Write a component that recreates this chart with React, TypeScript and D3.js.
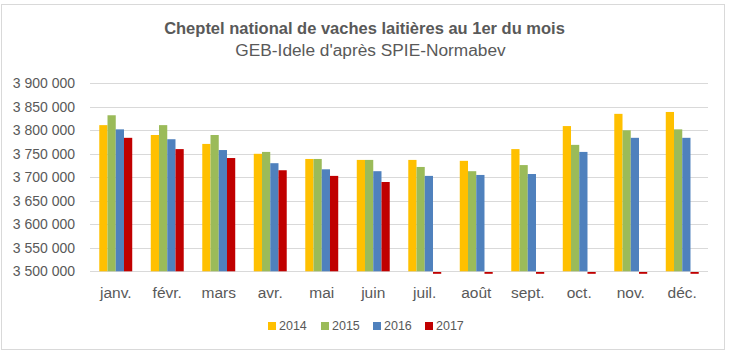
import React from "react";
import * as d3 from "d3";

const months = ["janv.", "févr.", "mars", "avr.", "mai", "juin", "juil.", "août", "sept.", "oct.", "nov.", "déc."];
const seriesNames = ["2014", "2015", "2016", "2017"];
const colors = ["#FFC000", "#9BBB59", "#4F81BD", "#C00000"];

const v2014 = [3811000, 3790000, 3771000, 3750000, 3739000, 3737000, 3737000, 3735000, 3760000, 3809000, 3835000, 3839000];
const v2015 = [3832000, 3811000, 3790000, 3754000, 3739000, 3737000, 3722000, 3713000, 3726000, 3769000, 3800000, 3802000];
const v2016 = [3802000, 3781000, 3758000, 3730000, 3717000, 3713000, 3703000, 3705000, 3707000, 3754000, 3784000, 3784000];
const v2017 = [3784000, 3760000, 3741000, 3715000, 3703000, 3690000, 0, 0, 0, 0, 0, 0];
const yTicks = [3500000, 3550000, 3600000, 3650000, 3700000, 3750000, 3800000, 3850000, 3900000];

const title = "Cheptel national de vaches laitières au 1er du mois";
const subtitle = "GEB-Idele d'après SPIE-Normabev";

const W = 734;
const H = 358;
const FONT = "'Liberation Sans', Arial, sans-serif";

export default function App() {
  const values = [v2014, v2015, v2016, v2017];
  const left = 90, right = 708, top = 83.3, bottom = 271.3;
  const x0 = d3.scaleBand<string>().domain(months).range([left, right]).paddingInner(0.36).paddingOuter(0.18);
  const x1 = d3.scaleBand<string>().domain(seriesNames).range([0, x0.bandwidth()]);
  const y = d3.scaleLinear().domain([3500000, 3900000]).range([bottom, top]);
  const fmt = (v: number) => d3.format(",")(v).replace(/,/g, " ");

  const legendItems = [
    { sx: 268, tx: 279 },
    { sx: 321, tx: 332 },
    { sx: 373, tx: 384 },
    { sx: 425, tx: 436 },
  ];

  return (
    <svg width={W} height={H} style={{ position: "absolute", left: 0, top: 0 }} fontFamily={FONT}>
      <rect x={0} y={0} width={W} height={H} fill="#fff" />
      <rect x={1.5} y={4.5} width={723} height={345} fill="#fff" stroke="#d9d9d9" />
      <text x={364.5} y={34} textAnchor="middle" fontSize={16.5} fontWeight="bold" fill="#595959">{title}</text>
      <text x={370.5} y={56} textAnchor="middle" fontSize={17.3} fill="#595959">{subtitle}</text>
      {yTicks.map((t) => (
        <g key={t}>
          <line x1={left} x2={right} y1={Math.round(y(t)) + 0.5} y2={Math.round(y(t)) + 0.5} stroke="#d9d9d9" strokeWidth={1} />
          <text x={75} y={y(t)} dy="0.35em" textAnchor="end" fontSize={14} fill="#595959">{fmt(t)}</text>
        </g>
      ))}
      {months.map((m, i) => (
        <g key={m}>
          {values.map((vals, s) => {
            const v = vals[i];
            const bx = (x0(m) as number) + (x1(seriesNames[s]) as number);
            if (v < 3500000) {
              return <rect key={s} x={bx} y={bottom + 0.7} width={x1.bandwidth()} height={1.8} fill={colors[s]} />;
            }
            return <rect key={s} x={bx} y={y(v)} width={x1.bandwidth()} height={bottom - y(v)} fill={colors[s]} />;
          })}
          <text x={(x0(m) as number) + x0.bandwidth() / 2} y={298} textAnchor="middle" fontSize={15.5} fill="#595959">{m}</text>
        </g>
      ))}
      {seriesNames.map((n, s) => (
        <g key={n}>
          <rect x={legendItems[s].sx} y={322} width={8} height={8} fill={colors[s]} />
          <text x={legendItems[s].tx} y={326} dy="0.35em" fontSize={12.5} fill="#595959">{n}</text>
        </g>
      ))}
    </svg>
  );
}
